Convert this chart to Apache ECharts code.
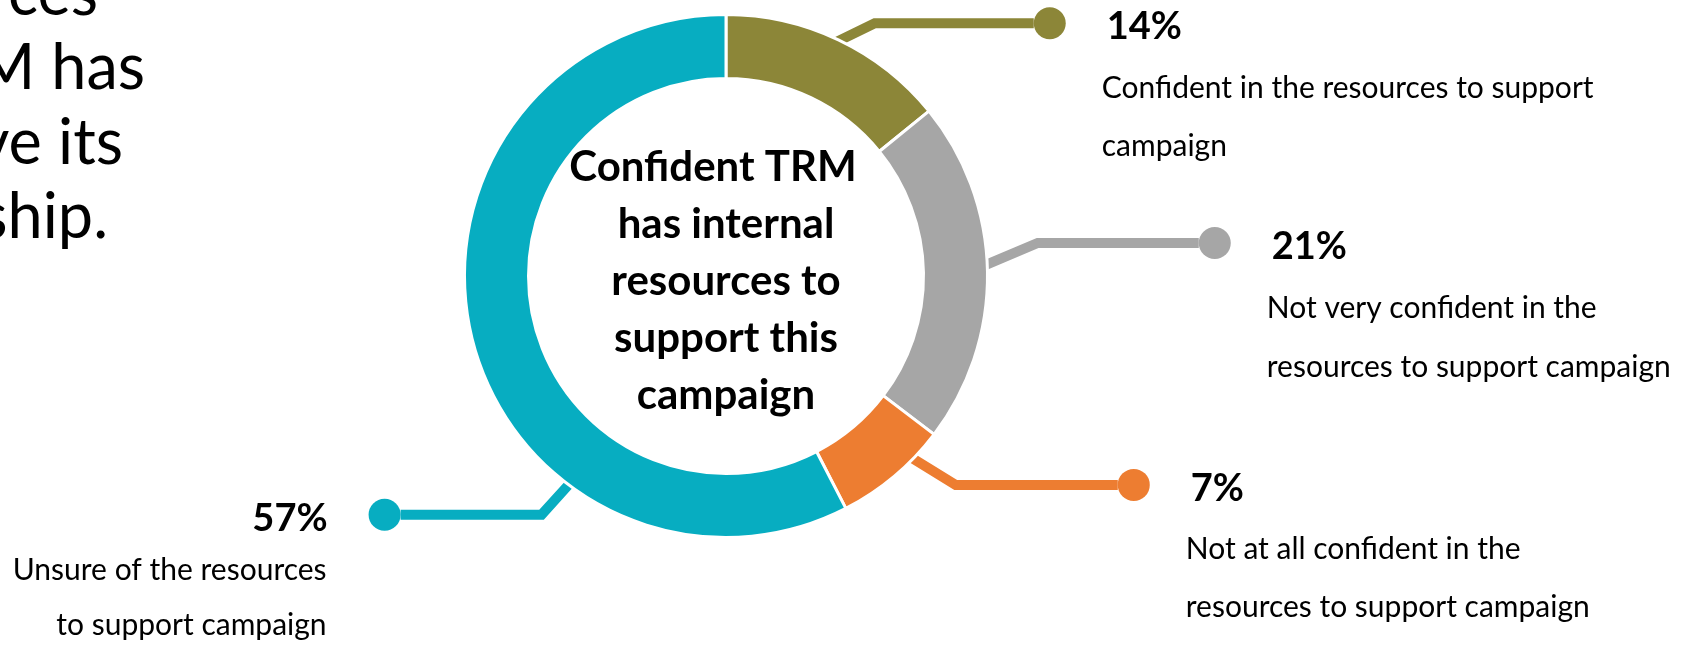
<!DOCTYPE html>
<html>
<head>
<meta charset="utf-8">
<script src="https://cdn.jsdelivr.net/npm/echarts@6/dist/echarts.min.js"></script>
<style>
  html, body { margin: 0; padding: 0; background: #ffffff; }
  #chart { width: 1690px; height: 645px; }
</style>
</head>
<body>
<div id="chart"></div>
<script>
// Share of respondents by confidence that TRM has the internal resources for the campaign
const shares = [14, 21, 7, 57];
const descLines = [
  ['Confident in the resources to support', 'campaign'],
  ['Not very confident in the', 'resources to support campaign'],
  ['Not at all confident in the', 'resources to support campaign'],
  ['Unsure of the resources', 'to support campaign']
];
const centerTitle = ['Confident TRM', 'has internal', 'resources to', 'support this', 'campaign'];
const sideNote = ['ces', 'M has', 've its', 'ship.'];

// ---- styling ----
const COLORS = ['#8C8638', '#A6A6A6', '#ED7D31', '#07ADC1'];
const CENTER = [726, 276];
const R_IN = 197.5, R_OUT = 261.5;
const RING_EDGE = 260;
const DOT_R = 16;
const FONT = 'Lato';
// leader per slice: point along the slice sweep where it leaves the ring,
// first leg offset from the ring edge, and horizontal run to the dot centre
const LEADERS = [
  { at: 0.50, leg: [37, -18], run: 175 },
  { at: 0.48, leg: [52, -22], run: 177 },
  { at: 0.28, leg: [44, 27], run: 178 },
  { at: 0.31, leg: [-28, 31], run: 157 }
];
// row heights: first row (dot + percentage), description rows
const ROWS = [[72, 58], [72, 59], [70, 58], [57, 55]];
const NOTE_RIGHT = [98, 145, 123, 108];
const NOTE_BASE = [14.5, 89, 163.5, 238];

const total = shares.reduce((a, b) => a + b, 0);
const isLeft = i => LEADERS[i].leg[0] < 0;

function richFor(i) {
  const [h1, h2] = ROWS[i];
  return {
    pct: { fontFamily: FONT, fontWeight: 'bold', fontSize: 38, color: '#000', lineHeight: h1, padding: [8, 0, 0, 0] },
    gap: { width: 41, height: 10, lineHeight: h1 },
    desc: { fontFamily: FONT, fontSize: 30, color: '#000', lineHeight: h2 },
    pad: { width: isLeft(i) ? 42 + 2 * DOT_R : 36 + 2 * DOT_R, height: 10, lineHeight: h2 },
    dot: {
      width: 2 * DOT_R, height: 2 * DOT_R, borderRadius: DOT_R,
      backgroundColor: COLORS[i], lineHeight: h1
    }
  };
}

function labelText(p) {
  const i = p.dataIndex;
  const d = descLines[i];
  if (isLeft(i)) {
    return '{pct|' + p.value + '%}{gap|}{dot|}\n{desc|' + d[0] + '}{pad|}\n{desc|' + d[1] + '}{pad|}';
  }
  return '{dot|}{gap|}{pct|' + p.value + '%}\n{pad|}{desc|' + d[0] + '}\n{pad|}{desc|' + d[1] + '}';
}

function leaderLayout(p) {
  const i = p.dataIndex;
  let before = 0;
  for (let k = 0; k < i; k++) before += shares[k];
  const L = LEADERS[i];
  const ang = (before + shares[i] * L.at) / total * Math.PI * 2;
  const ex = CENTER[0] + RING_EDGE * Math.sin(ang);
  const ey = CENTER[1] - RING_EDGE * Math.cos(ang);
  const len = Math.hypot(L.leg[0], L.leg[1]);
  const sx = ex - L.leg[0] / len * 5, sy = ey - L.leg[1] / len * 5;
  const bx = ex + L.leg[0], by = ey + L.leg[1];
  const dir = isLeft(i) ? -1 : 1;
  const hx = bx + dir * (L.run - DOT_R);
  return {
    x: hx,
    y: by - ROWS[i][0] / 2,
    align: isLeft(i) ? 'right' : 'left',
    verticalAlign: 'top',
    labelLinePoints: [[sx, sy], [bx, by], [hx, by]]
  };
}

const chart = echarts.init(document.getElementById('chart'), null, { renderer: 'canvas' });

// centre caption; the first line carries a trailing space as in the original layout
const captionText = centerTitle.map((t, i) => '{t|' + t + '}' + (i === 0 ? '{sp|}' : '')).join('\n');

const graphics = [{
  type: 'text', x: CENTER[0], y: 281,
  style: {
    text: captionText, fill: '#000', align: 'center', verticalAlign: 'middle',
    rich: {
      t: { fontFamily: FONT, fontWeight: 'bold', fontSize: 42, lineHeight: 57, fill: '#000', color: '#000' },
      sp: { width: 26, height: 10, lineHeight: 57 }
    }
  }
}].concat(sideNote.map((t, i) => ({
  type: 'text', x: NOTE_RIGHT[i], y: NOTE_BASE[i] - 20,
  style: { text: t, fontFamily: FONT, fontSize: 63, fill: '#000', align: 'right', verticalAlign: 'middle' }
})));

chart.setOption({
  backgroundColor: '#ffffff',
  animation: false,
  graphic: graphics,
  series: [{
    type: 'pie',
    center: CENTER,
    radius: [R_IN, R_OUT],
    startAngle: 90,
    clockwise: true,
    avoidLabelOverlap: false,
    silent: true,
    emphasis: { disabled: true },
    itemStyle: { borderColor: '#ffffff', borderWidth: 3 },
    label: {
      show: true, position: 'outside', alignTo: 'none', edgeDistance: 0,
      overflow: 'none', formatter: labelText
    },
    labelLine: {
      show: true, length: 4, length2: 4, smooth: false,
      lineStyle: { width: 10, cap: 'butt', join: 'miter' }
    },
    labelLayout: leaderLayout,
    data: shares.map((v, i) => ({
      value: v,
      name: descLines[i].join(' '),
      itemStyle: { color: COLORS[i] },
      label: { rich: richFor(i) }
    }))
  }]
});
</script>
</body>
</html>
